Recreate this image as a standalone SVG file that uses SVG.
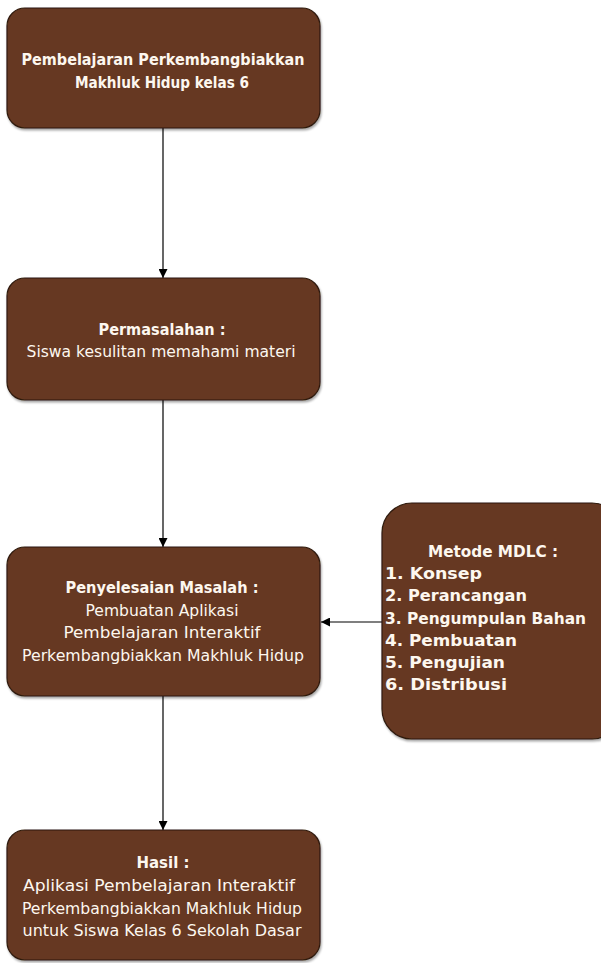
<svg xmlns="http://www.w3.org/2000/svg" width="601" height="963" viewBox="0 0 601 963">
<defs>
<style>
.box{fill:#663720;stroke:#2e1a0e;stroke-width:1.2}
.t{font-family:"DejaVu Sans","Liberation Sans",sans-serif;fill:#fdf7ef;font-size:15.5px;text-anchor:middle}
.b{font-weight:bold;font-size:15.5px}
.l{text-anchor:start}
.c{fill:none;stroke:#000;stroke-width:1.2}
</style>
<marker id="arr" viewBox="0 0 10 10" refX="10" refY="5" markerWidth="9" markerHeight="9" markerUnits="userSpaceOnUse" orient="auto">
<path d="M0,0 L10,5 L0,10 Z" fill="#000"/>
</marker>
<filter id="sh" x="-5%" y="-5%" width="110%" height="115%">
<feDropShadow dx="1" dy="2" stdDeviation="1.2" flood-color="#000" flood-opacity="0.35"/>
</filter>
</defs>
<rect width="601" height="963" fill="#fff"/>
<g id="connectors">
<line class="c" x1="163" y1="128" x2="163" y2="278" marker-end="url(#arr)"/>
<line class="c" x1="163" y1="400" x2="163" y2="547" marker-end="url(#arr)"/>
<line class="c" x1="163" y1="696" x2="163" y2="830" marker-end="url(#arr)"/>
<line class="c" x1="382" y1="622" x2="321" y2="622" marker-end="url(#arr)"/>
</g>
<g id="node1">
<rect class="box" x="7" y="8" width="313" height="120" rx="18" filter="url(#sh)"/>
<text class="t b" x="163" y="65" textLength="283" lengthAdjust="spacingAndGlyphs">Pembelajaran Perkembangbiakkan</text>
<text class="t b" x="162" y="88" textLength="174" lengthAdjust="spacingAndGlyphs">Makhluk Hidup kelas 6</text>
</g>
<g id="node2">
<rect class="box" x="7" y="278" width="313" height="122" rx="18" filter="url(#sh)"/>
<text class="t b" x="162" y="335" textLength="127" lengthAdjust="spacingAndGlyphs">Permasalahan :</text>
<text class="t" x="161" y="357" textLength="269" lengthAdjust="spacingAndGlyphs">Siswa kesulitan memahami materi</text>
</g>
<g id="node3">
<rect class="box" x="7" y="547" width="313" height="149" rx="18" filter="url(#sh)"/>
<text class="t b" x="162" y="593" textLength="193" lengthAdjust="spacingAndGlyphs">Penyelesaian Masalah :</text>
<text class="t" x="162" y="616" textLength="153" lengthAdjust="spacingAndGlyphs">Pembuatan Aplikasi</text>
<text class="t" x="162" y="638" textLength="197" lengthAdjust="spacingAndGlyphs">Pembelajaran Interaktif</text>
<text class="t" x="163" y="661" textLength="282" lengthAdjust="spacingAndGlyphs">Perkembangbiakkan Makhluk Hidup</text>
</g>
<g id="node4">
<rect class="box" x="7" y="830" width="313" height="130" rx="18" filter="url(#sh)"/>
<text class="t b" x="163" y="868" textLength="53" lengthAdjust="spacingAndGlyphs">Hasil :</text>
<text class="t" x="159" y="891" textLength="272" lengthAdjust="spacingAndGlyphs">Aplikasi Pembelajaran Interaktif</text>
<text class="t" x="162" y="914" textLength="280" lengthAdjust="spacingAndGlyphs">Perkembangbiakkan Makhluk Hidup</text>
<text class="t" x="162" y="936" textLength="279" lengthAdjust="spacingAndGlyphs">untuk Siswa Kelas 6 Sekolah Dasar</text>
</g>
<g id="node5">
<rect class="box" x="382" y="503" width="240" height="236" rx="30" filter="url(#sh)"/>
<text class="t b" x="493" y="557" textLength="130" lengthAdjust="spacingAndGlyphs">Metode MDLC :</text>
<text class="t b l" x="385" y="579" textLength="97" lengthAdjust="spacingAndGlyphs">1. Konsep</text>
<text class="t b l" x="385" y="601" textLength="142" lengthAdjust="spacingAndGlyphs">2. Perancangan</text>
<text class="t b l" x="385" y="624" textLength="201" lengthAdjust="spacingAndGlyphs">3. Pengumpulan Bahan</text>
<text class="t b l" x="385" y="646" textLength="132" lengthAdjust="spacingAndGlyphs">4. Pembuatan</text>
<text class="t b l" x="385" y="668" textLength="120" lengthAdjust="spacingAndGlyphs">5. Pengujian</text>
<text class="t b l" x="385" y="690" textLength="122" lengthAdjust="spacingAndGlyphs">6. Distribusi</text>
</g>
</svg>
